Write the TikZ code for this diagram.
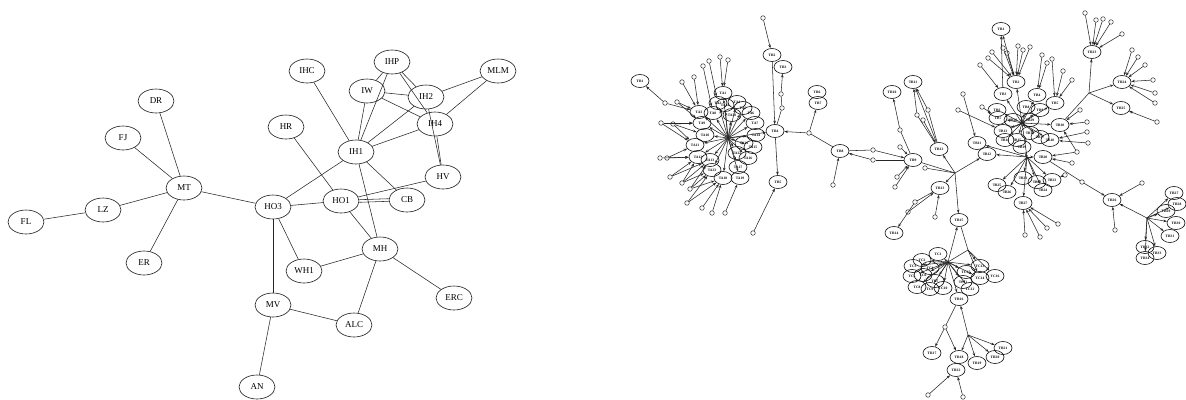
\documentclass[tikz,border=0pt]{standalone}
\usepackage{fontspec}
\setmainfont{Liberation Serif}
\usetikzlibrary{shapes.geometric,arrows.meta}
\begin{document}
\begin{tikzpicture}[x=1pt,y=-1pt,
  big/.style={ellipse,draw=black!90,line width=0.6pt,minimum width=36pt,minimum height=24pt,inner sep=0pt,font=\fontsize{9}{9}\selectfont},
  sm/.style={ellipse,draw=black!95,line width=0.6pt,minimum width=18pt,minimum height=13pt,inner sep=0pt,font=\fontsize{3.6}{3.6}\selectfont\bfseries},
  dot/.style={circle,draw=black!90,line width=0.45pt,minimum size=4.6pt,inner sep=0pt},
  ed/.style={line width=0.55pt,draw=black!85},
  ar/.style={ed,-{Stealth[length=3.6pt,width=2.6pt]}},
]
\useasboundingbox (0,0) rectangle (1186,399);

% ---------------- left graph ----------------
\foreach \n/\x/\y in {DR/156/101, FJ/123/138, MT/184/188, LZ/103/210, FL/26/222,
  ER/144/263, HO3/273/207, HR/286/127, IHC/307/71, IHP/392/62, MLM/498/71,
  IW/367/91, IH2/426/97, IH4/435/124, IH1/356/152, HV/443/177, HO1/341/201,
  CB/407/200, MH/380/249, WH1/304/271, ERC/454/298, MV/273/305, ALC/354/325, AN/257/387}
  \node[big] (\n) at (\x,\y) {\n};

\foreach \a/\b in {DR/MT, FJ/MT, LZ/MT, FL/LZ, ER/MT, MT/HO3, HR/HO1, HO3/IH1,
  HO3/HO1, HO3/WH1, HO3/MV, IHC/IH1, IHP/IH1, IHP/IW, IHP/IH2, IHP/IH4, IW/IH1,
  IW/IH2, IW/IH4, IH2/IH1, IH4/IH1, IH2/MLM, IH4/MLM, IH2/HV, IH4/HV, IH1/CB,
  IH1/MH, HV/HO1, HO1/MH, MH/WH1, MH/ALC, MH/ERC, MV/ALC, MV/AN}
  \draw[ed] (\a) -- (\b);
\draw[ed] ([yshift=1.3pt]HO1.east) -- ([yshift=1.3pt]CB.west);
\draw[ed] ([yshift=-1.3pt]HO1.east) -- ([yshift=-1.3pt]CB.west);

% ---------------- right graph ----------------
% labelled nodes
\foreach \n/\x/\y in {TA1/723/93, TA2/718/103, TA3/699/112, TA4/737/102, TA5/743/108,
  TA6/751/113, TA7/755/123, TA8/713/113, TA9/702/123, TA10/705/135, TA11/695/145,
  TA12/698/157, TA13/710/160, TA14/756/135, TA15/753/147, TA16/748/158, TA17/738/167,
  TA18/723/178, TA19/740/178, TA20/732/115, TA21/744/143, TA22/737/153, TA23/712/170,
  TA24/725/105,
  TR1/640/81, TR2/772/55, TR3/783/67, TR4/775/131, TR5/778/182, TR6/817/92, TR7/818/103,
  TR8/840/151, TR9/913/160, TR10/892/92, TR11/913/82, TR12/939/149, TR13/940/188,
  TR14/894/233, TR15/959/220, TR16/959/299, TR17/932/353, TR18/959/357, TR19/977/363,
  TR20/995/357, TR21/1003/348, TR22/956/370, TR23/1092/52, TR24/1122/82, TR25/1121/108,
  TR26/1112/200, TR27/1174/193, TR28/1177/204, TR29/1166/211, TR30/1176/223,
  TR31/1170/236, TR32/1145/247, TR33/1157/253, TR34/1145/258,
  TC1/938/254, TC2/922/260, TC3/913/266, TC4/930/268, TC5/912/276, TC6/923/275,
  TC7/935/281, TC8/917/287, TC9/930/289, TC10/943/288, TC11/963/282, TC12/970/289,
  TC13/980/266, TC14/980/278, TC15/966/272, TC16/995/276,
  TB1/1001/29, TB2/1016/82, TB3/1003/94, TB4/1037/95, TB5/1055/103, TB6/997/110,
  TB7/998/118, TB8/1026/107, TB9/1040/110, TB10/1060/125, TB11/977/143, TB12/987/154,
  TB13/1003/131, TB14/1005/140, TB15/1017/140, TB16/1030/133, TB17/1040/137,
  TB18/1050/140, TB19/1022/147, TB20/1043/157, TB21/1023/178, TB22/1037/182,
  TB23/1052/180, TB24/1043/190, TB25/997/185, TB26/1007/192, TB27/1023/203,
  TB28/1013/120, TB29/1030/120}
  \node[sm] (\n) at (\x,\y) {\n};

% small unlabelled nodes
\foreach \n/\x/\y in {dA1/665/103, dA2/720/57, dA3/728/60, dA4/709/61, dA5/703/66,
  dA6/694/77, dA7/682/82, dA8/677/102, dA9/661/123, dA10/673/124, dA11/660/158,
  dA12/667/158, dA13/670/177, dA14/682/183, dA15/690/189, dA16/687/203, dA17/702/208,
  dA18/712/213, dA19/725/213,
  dR1/763/18, dR2/781/94, dR3/782/108, dR4/753/233, dR5/809/133, dR6/833/185,
  dR7/873/150, dR8/873/160, dR9/900/147, dR10/897/177, dR11/895/187, dR12/900/130,
  dR13/928/110, dR14/917/115, dR15/923/120, dR16/925/168, dR17/915/202, dR18/908/212,
  dR19/935/217, dR20/945/327, dR21/928/395, dR22/963/397, dR24/1085/13, dR25/1096/20,
  dR26/1103/19, dR27/1111/22, dR28/1122/34, dR29/1132/50, dR30/1138/57, dR31/1145/65,
  dR32/1153/80, dR33/1155/93, dR34/1155/103, dR35/1157/122, dR37/1142/183, dR38/1115/230,
  dB1/992/52, dB2/988/58, dB3/1003/48, dB4/1007/53, dB5/1018/46, dB6/1023/50,
  dB7/1030/47, dB8/1042/55, dB9/1052/59, dB10/1047/63, dB11/980/65, dB12/963/94,
  dB13/958/110, dB14/982/107, dB15/1063/71, dB16/1072/80, dB17/1080/110, dB18/1087/122,
  dB19/1087/132, dB20/1088/143, dB21/1077/152, dB22/1072/163, dB23/1065/175,
  dB24/1025/235, dB25/1040/237, dB26/1047/228, dB27/1058/224, dB28/1082/182}
  \node[dot] (\n) at (\x,\y) {};

% branching points
\foreach \n/\x/\y in {HA/728/138, HB1/1022/123, HB2/1027/157, HC/948/262, J1/955/173,
  JC2/968/250, J3/968/335, J4/1089/93, J5/1147/218}
  \coordinate (\n) at (\x,\y);

% fans out of the branching points
\foreach \i in {1,...,24} \draw[ar] (HA) -- (TA\i);
\foreach \i in {3,...,10,13,14,15,16,17,18,28,29,2} \draw[ar] (HB1) -- (TB\i);
\foreach \i in {11,12,19,20,...,27} \draw[ar] (HB2) -- (TB\i);
\foreach \i in {1,...,15} \draw[ar] (HC) -- (TC\i);
\foreach \i in {27,...,34} \draw[ar] (J5) -- (TR\i);
\draw[ed] (HB1) -- (HB2);

% directed links
\foreach \a/\b in {HA/TR4, dA1/TR1, dA1/TA3, dA2/TA1, dA3/TA1, dA4/TA2, dA5/TA8,
  dA6/TA3, dA7/TA3, dA8/TA9, dA8/TA3, dA9/TA9, dA9/TA11, dA10/TA10, dA10/TA11,
  dA10/TA9, dA11/TA12, dA12/TA12, dA12/TA11, dA13/TA13, dA13/TA12, dA14/TA13,
  dA14/TA23, dA14/TA12, dA15/TA23, dA15/TA13, dA15/TA18, dA16/TA18, dA16/TA23,
  dA17/TA18, dA18/TA18, dA19/TA19,
  dR1/TR2, TR2/TR4, dR2/TR3, TR4/TR5, dR4/TR5, dR5/TR4, dR5/TR7, dR6/TR8,
  dR7/TR9, dR8/TR8, dR9/TR9, dR10/TR9, dR11/TR9, dR12/TR10,
  TR12/TR11, dR13/TR11, dR14/TR11, dR15/TR12,
  J1/TR12, J1/TR13, J1/TR15, J1/TB12, dR17/TR14, dR18/TR13, dR19/TR13,
  HC/TR15, JC2/TC13, JC2/TC16, JC2/TC14, HC/TR16,
  dR20/TR17, dR20/TR18, J3/TR16, J3/TR18, J3/TR19, J3/TR20, J3/TR21,
  dR21/TR22, dR22/TR22,
  TB3/TB1, TB2/TB1, dB1/TB2, dB2/TB2, dB3/TB2, dB4/TB2, dB5/TB2, dB6/TB2, dB7/TB2,
  dB8/TB4, dB9/TB5, dB10/TB4, dB11/TB3, dB12/TB11, dB13/TB13, dB14/TB7, dB15/TB5,
  dB16/TB5, dB17/TB10, dB18/TB10, dB19/TB18, dB20/TB18, dB21/TB20, dB21/TB10,
  dB22/TB20, dB23/TB23, dB24/TB27, dB25/TB27, dB26/TB27, dB27/TB27,
  J4/TR23, J4/TR24, J4/TR25, dR24/TR23, dR25/TR23, dR26/TR23, dR27/TR23, dR28/TR23,
  dR29/TR24, dR30/TR24, dR31/TR24, dR32/TR24, dR33/TR24, dR34/TR24, dR35/TR25,
  dB28/TR26, dR37/TR26, dR38/TR26, J5/TR26}
  \draw[ar] (\a) -- (\b);

% undirected links
\foreach \a/\b in {TR4/dR3, dR3/dR2, dR5/TR8, TR8/dR7, TR9/dR8, TR9/dR12,
  dR13/TR12, dR14/TR12, TR9/J1, dR16/J1, TR13/dR17, HC/JC2, JC2/TR15,
  TR16/dR20, TB10/J4, TB20/dB28}
  \draw[ed] (\a) -- (\b);
\end{tikzpicture}
\end{document}
